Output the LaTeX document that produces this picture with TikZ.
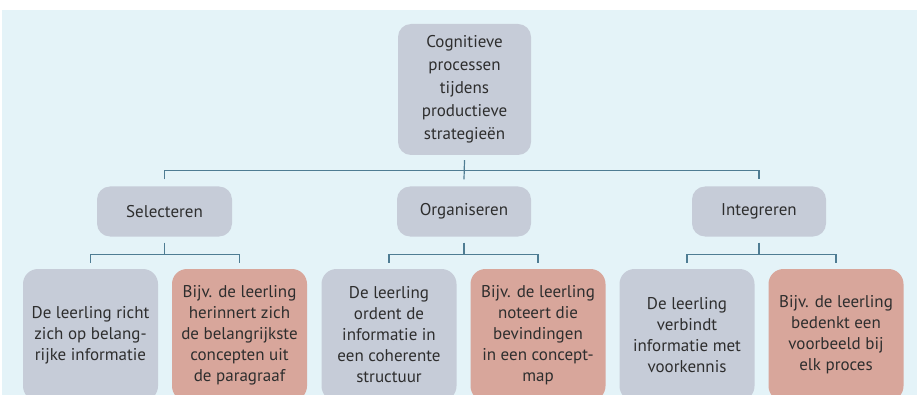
\documentclass[tikz,border=0pt]{standalone}
\usepackage{fontspec}
\setmainfont{PT Sans}
\usepackage{tikz}

\definecolor{achtergrond}{HTML}{E4F3F8}
\definecolor{grijsvak}{HTML}{C6CCD8}
\definecolor{roodvak}{HTML}{D8A69B}
\definecolor{lijnkleur}{HTML}{4E7C93}
\definecolor{tekstkleur}{HTML}{2E2E2E}

\begin{document}
\begin{tikzpicture}[x=1pt,y=-1pt,
        vak/.style={rounded corners=13pt, text=tekstkleur, align=center, inner sep=0pt,
                    font=\fontsize{17}{21}\selectfont},
        grijs/.style={vak, fill=grijsvak},
        rood/.style={vak, fill=roodvak},
        blad/.style={minimum width=135pt, minimum height=132pt, rounded corners=15pt},
        lijn/.style={draw=lijnkleur, line width=1.2pt}]

                    \useasboundingbox (0, 0) rectangle (917, 395);
                    \clip (0, 0) rectangle (917, 395);
                    \fill[achtergrond] (2, 10) rectangle (917, 395);

                    % hoofdvak
                    \node[grijs, minimum width=133pt, minimum height=131pt,
                          font=\fontsize{17}{23}\selectfont] (root) at (464.5, 89.5)
                        {Cognitieve\\processen\\tijdens\\productieve\\strategieën};

                    % processen
                    \node[grijs, minimum width=135pt, minimum height=50pt] (sel) at (164.5, 211.5) {Selecteren};
                    \node[grijs, minimum width=134pt, minimum height=50pt] (org) at (464, 211.5) {Organiseren};
                    \node[grijs, minimum width=134pt, minimum height=50pt] (int) at (759, 211.5) {Integreren};

                    % bladeren
                    \node[grijs, blad] (s1) at (90.5, 335) {De leerling richt\\zich op belang-\\rijke informatie};
                    \node[rood, blad] (s2) at (239.5, 335) {Bijv. de leerling\\herinnert zich\\de belangrijkste\\concepten uit\\de paragraaf};
                    \node[grijs, blad] (o1) at (389, 335) {De leerling\\ordent de\\informatie in\\een coherente\\structuur};
                    \node[rood, blad] (o2) at (538, 335) {Bijv. de leerling\\noteert die\\bevindingen\\in een concept-\\map};
                    \node[grijs, blad] (i1) at (687, 335) {De leerling\\verbindt\\informatie met\\voorkennis};
                    \node[rood, blad] (i2) at (836, 335) {Bijv. de leerling\\bedenkt een\\voorbeeld bij\\elk proces};

                    % verbindingen
                    \draw[lijn] ([yshift=-5pt]root.south) -- ([yshift=7pt]org.north);
                    \draw[lijn] ([yshift=7pt]sel.north) -- ++(0, -9) -| ([yshift=7pt]int.north);

                    \draw[lijn] ([yshift=-6pt]sel.south) -- ([yshift=14pt]sel.south |- s1.north);
                    \draw[lijn] ([yshift=6pt]s1.north) -- ++(0, -8) -| ([yshift=6pt]s2.north);

                    \draw[lijn] ([yshift=-6pt]org.south) -- ([yshift=14pt]org.south |- o1.north);
                    \draw[lijn] ([yshift=6pt]o1.north) -- ++(0, -8) -| ([yshift=6pt]o2.north);

                    \draw[lijn] ([yshift=-6pt]int.south) -- ([yshift=14pt]int.south |- i1.north);
                    \draw[lijn] ([yshift=6pt]i1.north) -- ++(0, -8) -| ([yshift=6pt]i2.north);

                \end{tikzpicture}
\end{document}
